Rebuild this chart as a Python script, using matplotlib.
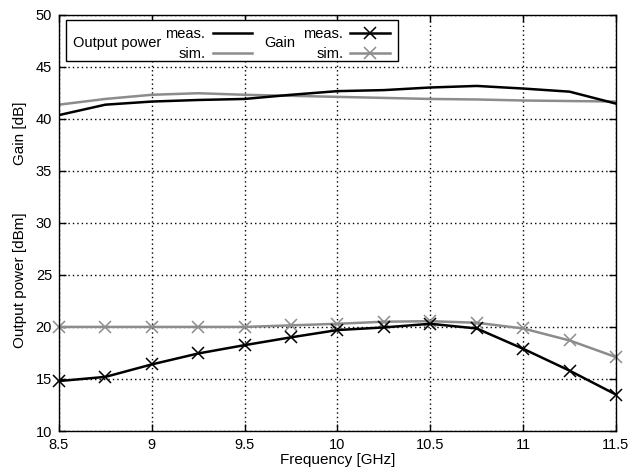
import matplotlib
matplotlib.use("Agg")
from matplotlib import pyplot as plt
from matplotlib.patches import Rectangle

plt.rcParams['font.family'] = ['Liberation Sans', 'DejaVu Sans']

freq = [8.5, 8.75, 9.0, 9.25, 9.5, 9.75, 10.0, 10.25, 10.5, 10.75, 11.0, 11.25, 11.5]

# upper curves (no markers) - legend "Output power"
pout_meas = [40.35, 41.35, 41.65, 41.8, 41.9, 42.3, 42.65, 42.75, 43.0, 43.15, 42.9, 42.6, 41.45]
pout_sim = [41.35, 41.9, 42.3, 42.45, 42.3, 42.2, 42.1, 42.0, 41.9, 41.85, 41.75, 41.7, 41.65]

# lower curves (x markers) - legend "Gain"
gain_meas = [14.8, 15.2, 16.4, 17.45, 18.25, 19.0, 19.7, 19.95, 20.3, 19.85, 17.9, 15.8, 13.5]
gain_sim = [20.0, 20.0, 20.0, 20.0, 20.0, 20.15, 20.3, 20.5, 20.55, 20.4, 19.85, 18.7, 17.1]

x_ticks = [8.5, 9, 9.5, 10, 10.5, 11, 11.5]
x_labels = ["8.5", "9", "9.5", "10", "10.5", "11", "11.5"]
y_ticks = [10, 15, 20, 25, 30, 35, 40, 45, 50]

GRAY = "#8c8c8c"
FS = 10.5

fig = plt.figure(figsize=(6.37, 4.75), dpi=100)
ax = fig.add_axes([0.0926, 0.0926, 0.8744, 0.8766])

l_pm, = ax.plot(freq, pout_meas, color="black", lw=1.8, zorder=3)
l_ps, = ax.plot(freq, pout_sim, color=GRAY, lw=1.8, zorder=2)
l_gm, = ax.plot(freq, gain_meas, color="black", lw=1.8, marker="x", ms=9, mew=1.1, zorder=3, clip_on=False)
l_gs, = ax.plot(freq, gain_sim, color=GRAY, lw=1.8, marker="x", ms=9, mew=1.1, zorder=2, clip_on=False)

ax.set_xlim(8.5, 11.5)
ax.set_ylim(10, 50)
ax.set_xticks(x_ticks)
ax.set_xticklabels(x_labels)
ax.set_yticks(y_ticks)
ax.tick_params(direction="in", length=5, width=1, top=True, right=True, labelsize=FS, pad=5)
ax.grid(True, color="black", linestyle=(0, (1, 2.2)), linewidth=1)
for s in ax.spines.values():
    s.set_linewidth(1)
ax.set_xlabel("Frequency [GHz]", fontsize=11, labelpad=1)

fig.text(0.031, 0.72, "Gain [dB]", rotation=90, ha="center", va="center", fontsize=11)
fig.text(0.031, 0.41, "Output power [dBm]", rotation=90, ha="center", va="center", fontsize=11)

# legend frame and group captions
ax.add_patch(Rectangle((0.0126, 0.889), 0.596, 0.098, transform=ax.transAxes,
                       facecolor="white", edgecolor="black", lw=1, zorder=4))
ax.text(0.0246, 0.932, "Output power", transform=ax.transAxes, ha="left", va="center",
        fontsize=FS, zorder=5)
ax.text(0.368, 0.932, "Gain", transform=ax.transAxes, ha="left", va="center",
        fontsize=FS, zorder=5)

common = dict(markerfirst=False, frameon=False, fontsize=FS, handlelength=2.7,
              handletextpad=0.5, labelspacing=0.4, borderpad=0, borderaxespad=0,
              loc="center right")
leg1 = ax.legend([l_pm, l_ps], ["meas.", "sim."], bbox_to_anchor=(0.3465, 0.93), **common)
leg1.set_zorder(6)
ax.add_artist(leg1)
leg2 = ax.legend([l_gm, l_gs], ["meas.", "sim."], bbox_to_anchor=(0.594, 0.93), **common)
leg2.set_zorder(6)

fig.savefig("out.png", dpi=100)
